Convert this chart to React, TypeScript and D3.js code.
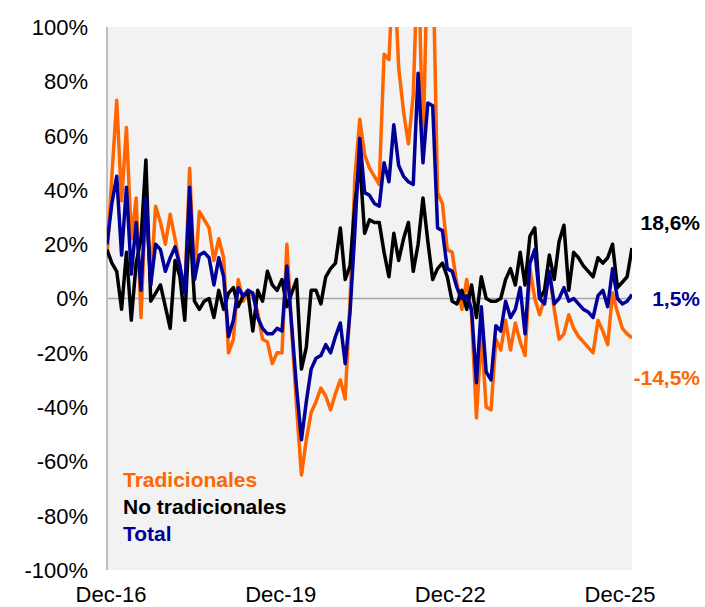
import React, { useEffect, useRef } from 'react';
import * as d3 from 'd3';

// monthly series, Dec-16 .. Dec-25 (109 points), % change
const tradicionales = [
  15, 45, 73, 36, 63, 22, 37, -7, 38, 5,
  34, 28, 20, 31, 22, 12, 2, 48, 7, 32,
  29, 26, 14, 22, 15, -20, -15, 7, -1, 3,
  1, -5, -15, -16, -24, -20, -20, 20, -12, -40,
  -65, -52, -42, -38, -33, -36, -41, -35, -30, -37,
  -1, 45, 66, 53, 48, 45, 42, 90, 88, 125,
  85, 69, 57, 75, 130, 55, 130, 130, 39, 35,
  18, 17, 5, -4, 7, -6, -44, -13, -40, -41,
  -15, -19, -8, -19, -9, -16, -21, 11, 0, -6,
  0, 10, -4, -15, -13, -6, -11, -14, -16, -18,
  -20, -8, -12, -17, 2, -5, -11, -13, -14.5,
];

const noTradicionales = [
  18, 13, 10, -4, 17, -8, 13, 22, 51, -1,
  2, 5, -3, -11, 14, 8, -8, 29, -1, -4,
  -1, 0, -7, 3, -4, 2, 4, -3, 1, 2,
  -12, 3, -1, 10, 5, 3, 7, -3, 2, 7,
  -26, -18, 3, 3, -2, 8, 11, 13, 26, 7,
  12, 35, 50, 24, 29, 28, 28, 17, 8, 24,
  14, 22, 28, 10, 20, 37, 21, 7, 11, 13,
  8, -1, -2, 3, -4, 5, -7, 8, 0, -1,
  -1, 0, 7, 11, 5, 17, 5, 23, 26, 0,
  3, 16, 7, 21, 27, 3, 17, 15, 12, 10,
  8, 15, 13, 15, 20, 4, 6, 8, 18.6,
];

const total = [
  20, 35, 45, 16, 41, 9, 28, 3, 37, 5,
  20, 18, 10, 15, 19, 12, 2, 41, 7, 16,
  17, 15, 5, 15, 8, -14, -8, 4, 1, 3,
  2, -7, -11, -13, -13, -11, -12, 12, -10, -33,
  -52, -38, -26, -22, -21, -17, -20, -14, -9, -24,
  -5, 25, 59, 39, 38, 35, 34, 50, 43, 64,
  49, 45, 43, 42, 83, 50, 72, 71, 26, 25,
  11, 10, 4, 0, 1, -4, -31, -3, -27, -30,
  -10, -12, -1, -7, -4, 4, -13, 13, 18, 0,
  -2, 10, -2, 0, 4, -1, 0, -2, -4, -5,
  -7, 1, 3, -3, 11, 0, -2, -1, 1.5,
];

const xTickLabels = ['Dec-16', 'Dec-19', 'Dec-22', 'Dec-25'];
const xTickIndex = [0, 36, 72, 108];
const yTicks = [-100, -80, -60, -40, -20, 0, 20, 40, 60, 80, 100];

const legendNames = ['Tradicionales', 'No tradicionales', 'Total'];
const endLabels = ['-14,5%', '18,6%', '1,5%'];
const endLabelPos = [-29, 28, 0]; // where the end labels sit, in axis units

const ORANGE = '#ff6600';
const BLACK = '#000000';
const NAVY = '#000099';

const App: React.FC = () => {
  const svgRef = useRef<SVGSVGElement>(null);

  useEffect(() => {
    if (!svgRef.current) return;
    const svg = d3.select(svgRef.current);
    svg.selectAll('*').remove();

    const width = 705;
    const height = 607;
    const margin = { top: 27, right: 73, bottom: 37, left: 107 };
    const font = 'Arial, "Liberation Sans", sans-serif';

    const x = d3.scaleLinear().domain([0, 108]).range([margin.left, width - margin.right]);
    const y = d3.scaleLinear().domain([-100, 100]).range([height - margin.bottom, margin.top]);
    // category labels sit slightly inside the first/last months
    const xLabel = d3.scaleLinear().domain([0, 108]).range([111, 620]);

    // plot background
    svg.append('rect')
      .attr('x', margin.left)
      .attr('y', margin.top)
      .attr('width', width - margin.left - margin.right)
      .attr('height', height - margin.top - margin.bottom)
      .attr('fill', '#f2f2f2');

    svg.append('clipPath').attr('id', 'plot-clip')
      .append('rect')
      .attr('x', margin.left)
      .attr('y', margin.top)
      .attr('width', width - margin.left - margin.right)
      .attr('height', height - margin.top - margin.bottom);

    // zero line
    svg.append('line')
      .attr('x1', margin.left).attr('x2', width - margin.right)
      .attr('y1', y(0)).attr('y2', y(0))
      .attr('stroke', '#a6a6a6').attr('stroke-width', 1.5);

    // left axis line
    svg.append('line')
      .attr('x1', margin.left).attr('x2', margin.left)
      .attr('y1', margin.top).attr('y2', height - margin.bottom)
      .attr('stroke', '#bfbfbf').attr('stroke-width', 2);

    // y tick labels
    svg.selectAll('text.ytick')
      .data(yTicks)
      .enter()
      .append('text')
      .attr('class', 'ytick')
      .attr('x', 88)
      .attr('y', d => y(d))
      .attr('dy', '0.36em')
      .attr('text-anchor', 'end')
      .style('font-family', font)
      .style('font-size', '22px')
      .style('fill', '#000')
      .text(d => `${d}%`);

    // x labels
    svg.selectAll('text.xtick')
      .data(xTickIndex)
      .enter()
      .append('text')
      .attr('class', 'xtick')
      .attr('x', d => xLabel(d))
      .attr('y', 602)
      .attr('text-anchor', 'middle')
      .style('font-family', font)
      .style('font-size', '22px')
      .style('fill', '#000')
      .text((d, i) => xTickLabels[i]);

    const line = d3.line<number>()
      .x((d, i) => x(i))
      .y(d => y(d));

    const series = [
      { values: tradicionales, color: ORANGE },
      { values: noTradicionales, color: BLACK },
      { values: total, color: NAVY },
    ];

    const lines = svg.append('g').attr('clip-path', 'url(#plot-clip)');
    series.forEach(s => {
      lines.append('path')
        .datum(s.values)
        .attr('d', line)
        .attr('fill', 'none')
        .attr('stroke', s.color)
        .attr('stroke-width', 3.5)
        .attr('stroke-linejoin', 'round');
    });

    // legend text inside the plot
    const legendColors = [ORANGE, BLACK, NAVY];
    svg.selectAll('text.legend')
      .data(legendNames)
      .enter()
      .append('text')
      .attr('class', 'legend')
      .attr('x', 123)
      .attr('y', (d, i) => 487 + i * 27)
      .style('font-family', font)
      .style('font-size', '21px')
      .style('font-weight', 'bold')
      .style('fill', (d, i) => legendColors[i])
      .text(d => d);

    // last values on the right
    svg.selectAll('text.endlabel')
      .data(endLabels)
      .enter()
      .append('text')
      .attr('class', 'endlabel')
      .attr('x', 700)
      .attr('y', (d, i) => y(endLabelPos[i]))
      .attr('dy', '0.36em')
      .attr('text-anchor', 'end')
      .style('font-family', font)
      .style('font-size', '21px')
      .style('font-weight', 'bold')
      .style('fill', (d, i) => legendColors[i])
      .text(d => d);
  }, []);

  return (
    <svg
      ref={svgRef}
      width={705}
      height={607}
      style={{ position: 'absolute', left: 0, top: 0, background: '#fff' }}
    />
  );
};

export default App;
